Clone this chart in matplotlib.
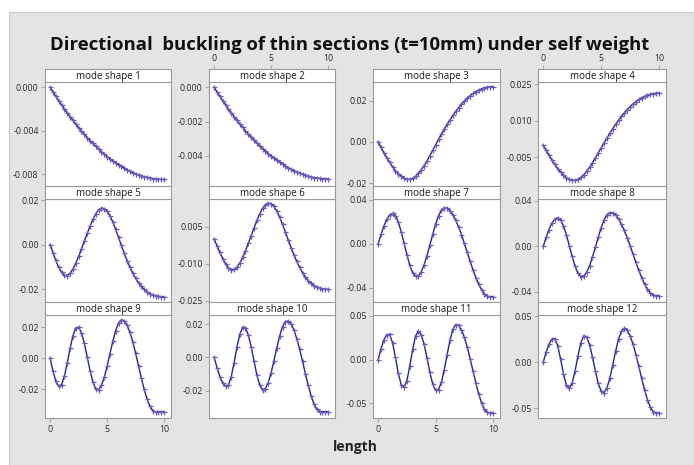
import matplotlib
matplotlib.use('Agg')
import matplotlib.pyplot as plt
from matplotlib.patches import Rectangle

plt.rcParams['font.family'] = ['Open Sans', 'DejaVu Sans']

# ---------------- data ----------------
length = [0, 0.25, 0.5, 0.75, 1.0, 1.25, 1.5, 1.75, 2.0, 2.25, 2.5, 2.75, 3.0, 3.25,
          3.5, 3.75, 4.0, 4.25, 4.5, 4.75, 5.0, 5.25, 5.5, 5.75, 6.0, 6.25, 6.5, 6.75,
          7.0, 7.25, 7.5, 7.75, 8.0, 8.25, 8.5, 8.75, 9.0, 9.25, 9.5, 9.75, 10.0]

mode1 = [0, -0.00042, -0.00083, -0.00123, -0.00162, -0.00199, -0.00236, -0.00271, -0.00306,
         -0.00339, -0.00372, -0.00403, -0.00434, -0.00463, -0.00491, -0.00518, -0.00544,
         -0.00569, -0.00593, -0.00616, -0.00638, -0.00658, -0.00678, -0.00696, -0.00714,
         -0.00730, -0.00746, -0.00760, -0.00774, -0.00786, -0.00797, -0.00807, -0.00816,
         -0.00824, -0.00831, -0.00837, -0.00842, -0.00845, -0.00848, -0.00849, -0.00850]
mode2 = [0, -0.000264, -0.000521, -0.000771, -0.001015, -0.001252, -0.001482, -0.001706,
         -0.001922, -0.002133, -0.002336, -0.002533, -0.002723, -0.002907, -0.003084,
         -0.003254, -0.003418, -0.003575, -0.003725, -0.003868, -0.004005, -0.004135,
         -0.004259, -0.004376, -0.004486, -0.004589, -0.004686, -0.004776, -0.004859,
         -0.004936, -0.005006, -0.005070, -0.005126, -0.005177, -0.005220, -0.005257,
         -0.005287, -0.005310, -0.005327, -0.005337, -0.005340]
mode3 = [0, -0.0026, -0.0052, -0.0076, -0.0099, -0.0120, -0.0139, -0.0154, -0.0167, -0.0176,
         -0.0181, -0.0181, -0.0176, -0.0166, -0.0152, -0.0134, -0.0114, -0.0091, -0.0066,
         -0.0040, -0.0014, 0.0012, 0.0037, 0.0061, 0.0085, 0.0107, 0.0128, 0.0148, 0.0166,
         0.0183, 0.0198, 0.0212, 0.0224, 0.0235, 0.0244, 0.0251, 0.0257, 0.0262, 0.0265,
         0.0267, 0.0268]
mode4 = [0, -0.00208, -0.00416, -0.00608, -0.00792, -0.0096, -0.01112, -0.01232, -0.01336,
         -0.01408, -0.01448, -0.01448, -0.01408, -0.01328, -0.01216, -0.01072, -0.00912,
         -0.00728, -0.00528, -0.0032, -0.00112, 0.00096, 0.00296, 0.00488, 0.0068, 0.00856,
         0.01024, 0.01184, 0.01328, 0.01464, 0.01584, 0.01696, 0.01792, 0.0188, 0.01952,
         0.02008, 0.02056, 0.02096, 0.0212, 0.02136, 0.02144]
mode5 = [0, -0.0036, -0.0071, -0.0102, -0.0125, -0.0138, -0.0139, -0.0129, -0.0110, -0.0084,
         -0.0053, -0.0019, 0.0016, 0.0050, 0.0083, 0.0113, 0.0138, 0.0156, 0.0164, 0.0162,
         0.0150, 0.0129, 0.0101, 0.0068, 0.0032, -0.0004, -0.0039, -0.0072, -0.0102, -0.0129,
         -0.0152, -0.0172, -0.0188, -0.0201, -0.0212, -0.0220, -0.0226, -0.0230, -0.0233,
         -0.0234, -0.0235]
mode6 = [0, -0.0027, -0.0054, -0.0079, -0.0101, -0.0116, -0.0124, -0.0123, -0.0114, -0.0097,
         -0.0074, -0.0047, -0.0017, 0.0014, 0.0045, 0.0075, 0.0102, 0.0124, 0.0139, 0.0145,
         0.0143, 0.0132, 0.0113, 0.0088, 0.0059, 0.0028, -0.0004, -0.0035, -0.0064, -0.0091,
         -0.0115, -0.0136, -0.0154, -0.0168, -0.0180, -0.0189, -0.0195, -0.0199, -0.0202,
         -0.0203, -0.0204]
mode7 = [0, 0.0086, 0.0163, 0.0225, 0.0264, 0.0278, 0.0258, 0.0200, 0.0112, 0.0007, -0.0100,
         -0.0195, -0.0263, -0.0296, -0.0291, -0.0254, -0.0191, -0.0107, -0.0010, 0.0088,
         0.0180, 0.0256, 0.0307, 0.0329, 0.0324, 0.0303, 0.0266, 0.0216, 0.0154, 0.0083,
         0.0005, -0.0077, -0.0158, -0.0236, -0.0307, -0.0369, -0.0419, -0.0456, -0.0477,
         -0.0482, -0.0483]
mode8 = [0, 0.0077, 0.0147, 0.0203, 0.0238, 0.0250, 0.0232, 0.0180, 0.0101, 0.0006, -0.0090,
         -0.0176, -0.0237, -0.0266, -0.0262, -0.0229, -0.0172, -0.0096, -0.0009, 0.0079,
         0.0162, 0.0230, 0.0276, 0.0296, 0.0292, 0.0273, 0.0239, 0.0194, 0.0139, 0.0075,
         0.0005, -0.0069, -0.0142, -0.0212, -0.0276, -0.0332, -0.0377, -0.0410, -0.0429,
         -0.0434, -0.0435]
mode9 = [0, -0.0085, -0.0150, -0.0182, -0.0172, -0.0117, -0.0032, 0.0063, 0.0146, 0.0196,
         0.0201, 0.0165, 0.0096, 0.0008, -0.0081, -0.0155, -0.0199, -0.0204, -0.0177, -0.0124,
         -0.0052, 0.0030, 0.0111, 0.0179, 0.0228, 0.0248, 0.0242, 0.0214, 0.0167, 0.0105,
         0.0031, -0.0049, -0.0129, -0.0203, -0.0265, -0.0312, -0.0340, -0.0347, -0.0348,
         -0.0348, -0.0347]
mode10 = [0, -0.0061, -0.0115, -0.0154, -0.0174, -0.0167, -0.0116, -0.0033, 0.0060, 0.0138,
          0.0180, 0.0177, 0.0134, 0.0063, -0.0024, -0.0106, -0.0168, -0.0195, -0.0187, -0.0151,
          -0.0092, -0.0019, 0.0058, 0.0129, 0.0184, 0.0215, 0.0218, 0.0201, 0.0164, 0.0112,
          0.0048, -0.0023, -0.0097, -0.0168, -0.0230, -0.0279, -0.0312, -0.0325, -0.0326,
          -0.0326, -0.0326]
mode11 = [0, 0.0126, 0.0228, 0.0287, 0.0288, 0.0193, 0.0026, -0.0155, -0.0285, -0.0318,
          -0.0239, -0.0074, 0.0118, 0.0270, 0.0327, 0.0286, 0.0175, 0.0018, -0.0147, -0.0281,
          -0.0352, -0.0344, -0.0259, -0.0115, 0.0058, 0.0223, 0.0347, 0.0402, 0.0391, 0.0341,
          0.0256, 0.0144, 0.0011, -0.0130, -0.0269, -0.0395, -0.0498, -0.0570, -0.0604,
          -0.0608, -0.0609]
mode12 = [0, 0.0108, 0.0196, 0.0249, 0.0255, 0.0178, 0.0033, -0.0127, -0.0247, -0.0284,
          -0.0227, -0.0095, 0.0068, 0.0211, 0.0285, 0.0273, 0.0190, 0.0057, -0.0094, -0.0229,
          -0.0314, -0.0330, -0.0280, -0.0174, -0.0032, 0.0119, 0.0250, 0.0338, 0.0366, 0.0344,
          0.0286, 0.0197, 0.0083, -0.0045, -0.0176, -0.0301, -0.0408, -0.0490, -0.0538,
          -0.0550, -0.0550]

modes = [mode1, mode2, mode3, mode4, mode5, mode6, mode7, mode8, mode9, mode10, mode11, mode12]
panel_titles = ['mode shape %d' % (i + 1) for i in range(12)]

y_ticks = [[0.0, -0.004, -0.008], [0.0, -0.002, -0.004], [0.02, 0.0, -0.02],
           [0.025, 0.010, -0.005], [0.02, 0.0, -0.02], [0.005, -0.010, -0.025],
           [0.04, 0.0, -0.04], [0.04, 0.0, -0.04], [0.02, 0.0, -0.02],
           [0.02, 0.0, -0.02], [0.05, 0.0, -0.05], [0.05, 0.0, -0.05]]
y_ticklabels = [['0.000', '-0.004', '-0.008'], ['0.000', '-0.002', '-0.004'],
                ['0.02', '0.00', '-0.02'], ['0.025', '0.010', '-0.005'],
                ['0.02', '0.00', '-0.02'], ['0.005', '-0.010', '-0.025'],
                ['0.04', '0.00', '-0.04'], ['0.04', '0.00', '-0.04'],
                ['0.02', '0.00', '-0.02'], ['0.02', '0.00', '-0.02'],
                ['0.05', '0.00', '-0.05'], ['0.05', '0.00', '-0.05']]
x_ticks = [0, 5, 10]
x_ticklabels = ['0', '5', '10']

title = 'Directional  buckling of thin sections (t=10mm) under self weight'
x_label = 'length'

# ---------------- layout ----------------
W, H = 694, 465
fig = plt.figure(figsize=(W / 100, H / 100), dpi=100)
fig.patch.set_facecolor('white')
fig.add_artist(Rectangle((9 / W, 0), 1 - 9 / W, 1 - 12 / H, transform=fig.transFigure,
                         facecolor='#e4e4e4', edgecolor='#cccccc', lw=0.8, zorder=-10))

ylims = [(-0.0091, 0.00049), (-0.00575, 0.00031), (-0.0213, 0.029), (-0.0168, 0.026),
         (-0.0258, 0.0205), (-0.0255, 0.0162), (-0.053, 0.0409), (-0.049, 0.0415),
         (-0.0388, 0.028), (-0.0364, 0.0254), (-0.0668, 0.0511), (-0.0605, 0.0511)]
col_px = [(45, 171), (209, 335), (373, 500), (538, 666)]
row_px = [(82, 186), (199, 302), (315, 418)]
strip_h = 13
xlim = (-0.45, 10.6)
frame_c = '#9a9a9a'
text_c = '#2a2a2a'
line_c = '#1f2d80'
mark_c = '#6b58ba'

for k in range(12):
    r, c = divmod(k, 4)
    x0, x1 = col_px[c]
    y0, y1 = row_px[r]
    ax = fig.add_axes([x0 / W, 1 - y1 / H, (x1 - x0) / W, (y1 - y0) / H])
    ax.plot(length, modes[k], color=line_c, lw=1.0, zorder=2)
    ax.plot(length, modes[k], ls='none', marker='+', ms=3.6, mew=0.9, color=mark_c, zorder=3)
    ax.set_xlim(*xlim)
    ax.set_ylim(*ylims[k])
    ax.set_yticks(y_ticks[k])
    ax.set_yticklabels(y_ticklabels[k])
    ax.tick_params(axis='y', direction='out', length=3, width=0.6, color=frame_c,
                   labelsize=6.3, labelcolor=text_c, pad=1.5)
    if r == 2 and c in (0, 2):
        ax.set_xticks(x_ticks)
        ax.set_xticklabels(x_ticklabels)
        ax.tick_params(axis='x', direction='out', length=3, width=0.6, color=frame_c,
                       labelsize=6.3, labelcolor=text_c, pad=2)
    else:
        ax.set_xticks([])
    for s in ax.spines.values():
        s.set_color(frame_c)
        s.set_linewidth(0.8)

    sax = fig.add_axes([x0 / W, 1 - y0 / H, (x1 - x0) / W, strip_h / H])
    sax.set_facecolor('white')
    sax.set_xlim(*xlim)
    sax.set_ylim(0, 1)
    sax.set_yticks([])
    if r == 0 and c in (1, 3):
        sax.xaxis.tick_top()
        sax.set_xticks(x_ticks)
        sax.set_xticklabels(x_ticklabels)
        sax.tick_params(axis='x', direction='out', length=3, width=0.6, color=frame_c,
                        labelsize=6.3, labelcolor=text_c, pad=1.5)
    else:
        sax.set_xticks([])
    for s in sax.spines.values():
        s.set_color(frame_c)
        s.set_linewidth(0.8)
    sax.text(0.5, 0.45, panel_titles[k], transform=sax.transAxes, ha='center', va='center',
             fontsize=7, color='#1a1a1a')

fig.text(350 / W, 1 - 45.5 / H, title, ha='center', va='center', fontsize=13.3,
         fontweight='bold', color='#111111')
fig.text(355 / W, 1 - 447 / H, x_label, ha='center', va='center', fontsize=10,
         fontweight='bold', color='#222222')

fig.savefig('out.png', dpi=100)
